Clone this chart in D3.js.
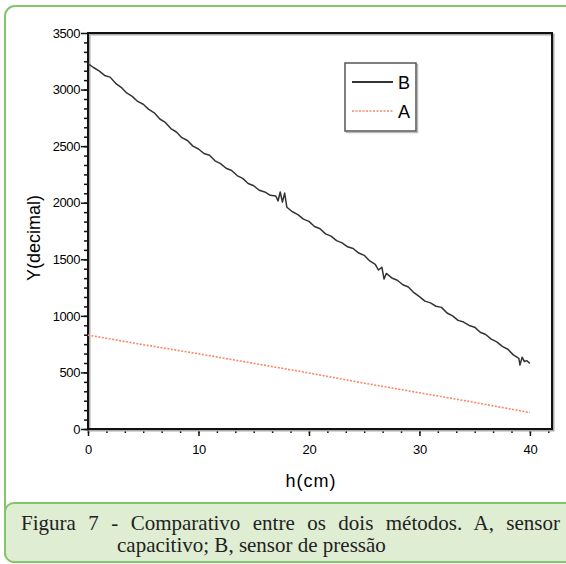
<!DOCTYPE html>
<html>
<head>
<meta charset="utf-8">
<script src="https://cdn.jsdelivr.net/npm/d3@7/dist/d3.min.js"></script>
<style>
  body { margin: 0; background: #fff; }
  svg { display: block; }
  .tick text { font-family: "Liberation Sans", Arial, sans-serif; font-size: 13px; letter-spacing: -0.4px; fill: #000; }
</style>
</head>
<body>
<script>
// series B (sensor de pressão)
var bH = [0, 0.5, 1, 1.5, 2, 2.5, 3, 3.5, 4, 4.5, 5, 5.5, 6, 6.5, 7, 7.5, 8, 8.5, 9, 9.5,
          10, 10.5, 11, 11.5, 12, 12.5, 13, 13.5, 14, 14.5, 15, 15.5, 16, 16.5, 17, 17.2, 17.4, 17.6, 17.8,
          18, 18.5, 19, 19.5, 20, 20.5, 21, 21.5, 22, 22.5, 23, 23.5, 24, 24.5, 25, 25.5, 26, 26.3, 26.6, 26.8,
          27, 27.5, 28, 28.5, 29, 29.5, 30, 30.5, 31, 31.5, 32, 32.5, 33, 33.5, 34, 34.5, 35, 35.5, 36, 36.5,
          37, 37.5, 38, 38.5, 39, 39.1, 39.3, 39.5, 39.7, 40];
var bY = [3230, 3195, 3165, 3125, 3110, 3055, 3020, 2970, 2940, 2895, 2870, 2825, 2795, 2740, 2710, 2655, 2625, 2575, 2550, 2500,
          2475, 2435, 2420, 2370, 2345, 2305, 2285, 2240, 2215, 2170, 2150, 2110, 2095, 2065, 2060, 2015, 2095, 2005, 2085,
          1960, 1920, 1895, 1855, 1835, 1790, 1770, 1725, 1705, 1665, 1645, 1610, 1595, 1555, 1535, 1485, 1455, 1405, 1430, 1325,
          1375, 1335, 1315, 1275, 1255, 1205, 1170, 1130, 1115, 1085, 1075, 1025, 1000, 960, 945, 915, 900, 855, 835, 795,
          770, 730, 705, 655, 625, 565, 635, 595, 605, 580];

// series A (sensor capacitivo)
var aH = [0, 5, 10, 15, 20, 25, 30, 35, 40];
var aY = [830, 745, 665, 580, 495, 405, 320, 235, 145];

var xTicks = [0, 10, 20, 30, 40];
var yTicks = [0, 500, 1000, 1500, 2000, 2500, 3000, 3500];
var legendNames = ["B", "A"];

var captionLine1 = "Figura 7 - Comparativo entre os dois métodos. A, sensor";
var captionLine2 = "capacitivo; B, sensor de pressão";

var W = 566, H = 564;
var green = "#86c66a";

var svg = d3.select("body").append("svg")
    .attr("width", W)
    .attr("height", H);

// outer panel
svg.append("rect")
    .attr("x", 5).attr("y", 6)
    .attr("width", 620).attr("height", 556)
    .attr("rx", 10)
    .attr("fill", "#fff")
    .attr("stroke", green)
    .attr("stroke-width", 2);

var x = d3.scaleLinear().domain([0, 42]).range([88, 552]);
var y = d3.scaleLinear().domain([0, 3500]).range([429, 33]);

function tickStyle(g) {
    g.select(".domain").remove();
    g.selectAll("line").attr("stroke", "#111").attr("stroke-width", 1.5);
}

// minor ticks
svg.append("g")
    .attr("transform", "translate(0,429)")
    .call(d3.axisBottom(x).tickValues(d3.range(0, 42, 10 / 6)).tickSize(4).tickFormat(""))
    .call(tickStyle);
svg.append("g")
    .attr("transform", "translate(88,0)")
    .call(d3.axisLeft(y).tickValues(d3.range(0, 3500, 500 / 6)).tickSize(4).tickFormat(""))
    .call(tickStyle);

// major ticks + labels
svg.append("g")
    .attr("transform", "translate(0,429)")
    .call(d3.axisBottom(x).tickValues(xTicks).tickSize(7).tickPadding(9).tickFormat(d3.format("d")))
    .call(tickStyle);
svg.append("g")
    .attr("transform", "translate(88,0)")
    .call(d3.axisLeft(y).tickValues(yTicks).tickSize(7).tickPadding(1).tickFormat(d3.format("d")))
    .call(tickStyle);

// frame with a soft shadow
svg.append("rect")
    .attr("x", x(0) + 1.5).attr("y", y(3500) + 1.5)
    .attr("width", x(42) - x(0)).attr("height", y(0) - y(3500))
    .attr("fill", "none").attr("stroke", "#aaa").attr("stroke-width", 2);
svg.append("rect")
    .attr("x", x(0)).attr("y", y(3500))
    .attr("width", x(42) - x(0)).attr("height", y(0) - y(3500))
    .attr("fill", "none").attr("stroke", "#111").attr("stroke-width", 2);

var line = d3.line()
    .x(function(d) { return x(d[0]); })
    .y(function(d) { return y(d[1]); });

svg.append("path")
    .datum(aH.map(function(h, i) { return [h, aY[i]]; }))
    .attr("fill", "none")
    .attr("stroke", "#f4896a")
    .attr("stroke-width", 1.6)
    .attr("stroke-dasharray", "2,1.5")
    .attr("d", line);

svg.append("path")
    .datum(bH.map(function(h, i) { return [h, bY[i]]; }))
    .attr("fill", "none")
    .attr("stroke", "#333")
    .attr("stroke-width", 1.5)
    .attr("stroke-linejoin", "round")
    .attr("d", line);

// legend
svg.append("rect")
    .attr("x", 346.5).attr("y", 64.5).attr("width", 71).attr("height", 68)
    .attr("fill", "none").attr("stroke", "#bbb").attr("stroke-width", 1.5);
svg.append("rect")
    .attr("x", 345).attr("y", 63).attr("width", 71).attr("height", 68)
    .attr("fill", "#fff").attr("stroke", "#555").attr("stroke-width", 1.5);

var legendStyles = [
    { stroke: "#333", width: 2, dash: null },
    { stroke: "#f4896a", width: 1.6, dash: "2,1.5" }
];
legendNames.forEach(function(name, i) {
    var ly = 82 + i * 29;
    svg.append("line")
        .attr("x1", 352).attr("x2", 393)
        .attr("y1", ly).attr("y2", ly)
        .attr("stroke", legendStyles[i].stroke)
        .attr("stroke-width", legendStyles[i].width)
        .attr("stroke-dasharray", legendStyles[i].dash);
    svg.append("text")
        .attr("x", 398).attr("y", ly + 7)
        .style("font-family", "Liberation Sans, Arial, sans-serif")
        .style("font-size", "18px")
        .attr("fill", "#000")
        .text(name);
});

// axis titles
svg.append("text")
    .attr("transform", "translate(40,238) rotate(-90)")
    .attr("text-anchor", "middle")
    .style("font-family", "Liberation Sans, Arial, sans-serif")
    .style("font-size", "18px")
    .attr("fill", "#000")
    .text("Y(decimal)");

svg.append("text")
    .attr("x", 311).attr("y", 487)
    .attr("text-anchor", "middle")
    .style("font-family", "Liberation Sans, Arial, sans-serif")
    .style("font-size", "18px")
    .style("letter-spacing", "1px")
    .attr("fill", "#000")
    .text("h(cm)");

// caption box
svg.append("rect")
    .attr("x", 5).attr("y", 503)
    .attr("width", 620).attr("height", 59)
    .attr("rx", 9)
    .attr("fill", "#dfedd3")
    .attr("stroke", green)
    .attr("stroke-width", 2);

var cap1 = svg.append("text")
    .attr("x", 21).attr("y", 530)
    .style("font-family", "Liberation Serif, Times New Roman, serif")
    .style("font-size", "21px")
    .attr("fill", "#222")
    .text(captionLine1);
// justify the first line
var natural = cap1.node().getComputedTextLength();
var gaps = captionLine1.split(" ").length - 1;
cap1.style("word-spacing", ((560 - 21 - natural) / gaps) + "px");

svg.append("text")
    .attr("x", 117).attr("y", 552)
    .style("font-family", "Liberation Serif, Times New Roman, serif")
    .style("font-size", "21px")
    .attr("fill", "#222")
    .text(captionLine2);
</script>
</body>
</html>
